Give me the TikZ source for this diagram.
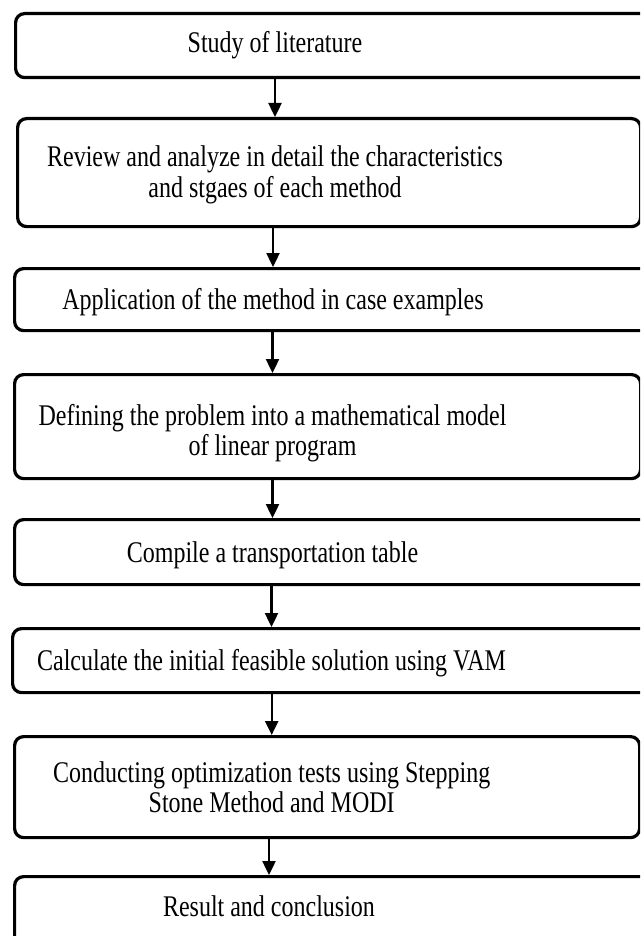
\documentclass[tikz,border=0pt]{standalone}
\usepackage{fontspec}
\setmainfont{Liberation Serif}
\newfontfamily\stepfont[FakeStretch=0.8]{Liberation Serif}
\usetikzlibrary{arrows.meta}
\begin{document}
\begin{tikzpicture}[x=1pt,y=-1pt,
  stepbox/.style={draw, line width=3.2pt, rounded corners=9pt, anchor=north west, inner sep=0pt},
  steptext/.style={font=\stepfont\fontsize{30}{30.5}\selectfont, align=center, inner sep=0pt},
  oneline/.style={steptext, text height=20.5pt, text depth=6.5pt},
  arr/.style={line width=2.4pt, -{Triangle[width=13pt,length=14pt]}}]
\useasboundingbox (0,0) rectangle (640,936);
\clip (0,0) rectangle (640,936);

% frames of the eight steps (left, top, width, height)
\node[stepbox, minimum width=646pt, minimum height=64pt]  (b1) at (14,12)  {};
\node[stepbox, minimum width=623pt, minimum height=108pt] (b2) at (16,117) {};
\node[stepbox, minimum width=647pt, minimum height=62pt]  (b3) at (13,267) {};
\node[stepbox, minimum width=626pt, minimum height=104pt] (b4) at (13,373) {};
\node[stepbox, minimum width=647pt, minimum height=65pt]  (b5) at (13,518) {};
\node[stepbox, minimum width=649pt, minimum height=64pt]  (b6) at (11,627) {};
\node[stepbox, minimum width=625pt, minimum height=101pt] (b7) at (13,735) {};
\node[stepbox, minimum width=647pt, minimum height=70pt]  (b8) at (13,875) {};

% step labels
\node[oneline]  (t1) at (275,46)    {Study of literature};
\node[steptext] (t2) at (275,175)   {Review and analyze in detail the characteristics\\and stgaes of each method};
\node[oneline]  (t3) at (273,302)   {Application of the method in case examples};
\node[steptext] (t4) at (272.5,433) {Defining the problem into a mathematical model\\of linear program};
\node[oneline]  (t5) at (272.5,555) {Compile a transportation table};
\node[oneline]  (t6) at (271.5,663) {Calculate the initial feasible solution using VAM};
\node[steptext] (t7) at (271.7,787) {Conducting optimization tests using Stepping\\Stone Method and MODI};
\node[oneline]  (t8) at (269,909)   {Result and conclusion};

% connectors
\draw[arr] (t2 |- b1.south) -- (t2 |- b2.north);
\draw[arr] (t3 |- b2.south) -- (t3 |- b3.north);
\draw[arr] (t4 |- b3.south) -- (t4 |- b4.north);
\draw[arr] (t5 |- b4.south) -- (t5 |- b5.north);
\draw[arr] (t6 |- b5.south) -- (t6 |- b6.north);
\draw[arr] (t7 |- b6.south) -- (t7 |- b7.north);
\draw[arr] (t8 |- b7.south) -- (t8 |- b8.north);
\end{tikzpicture}
\end{document}
